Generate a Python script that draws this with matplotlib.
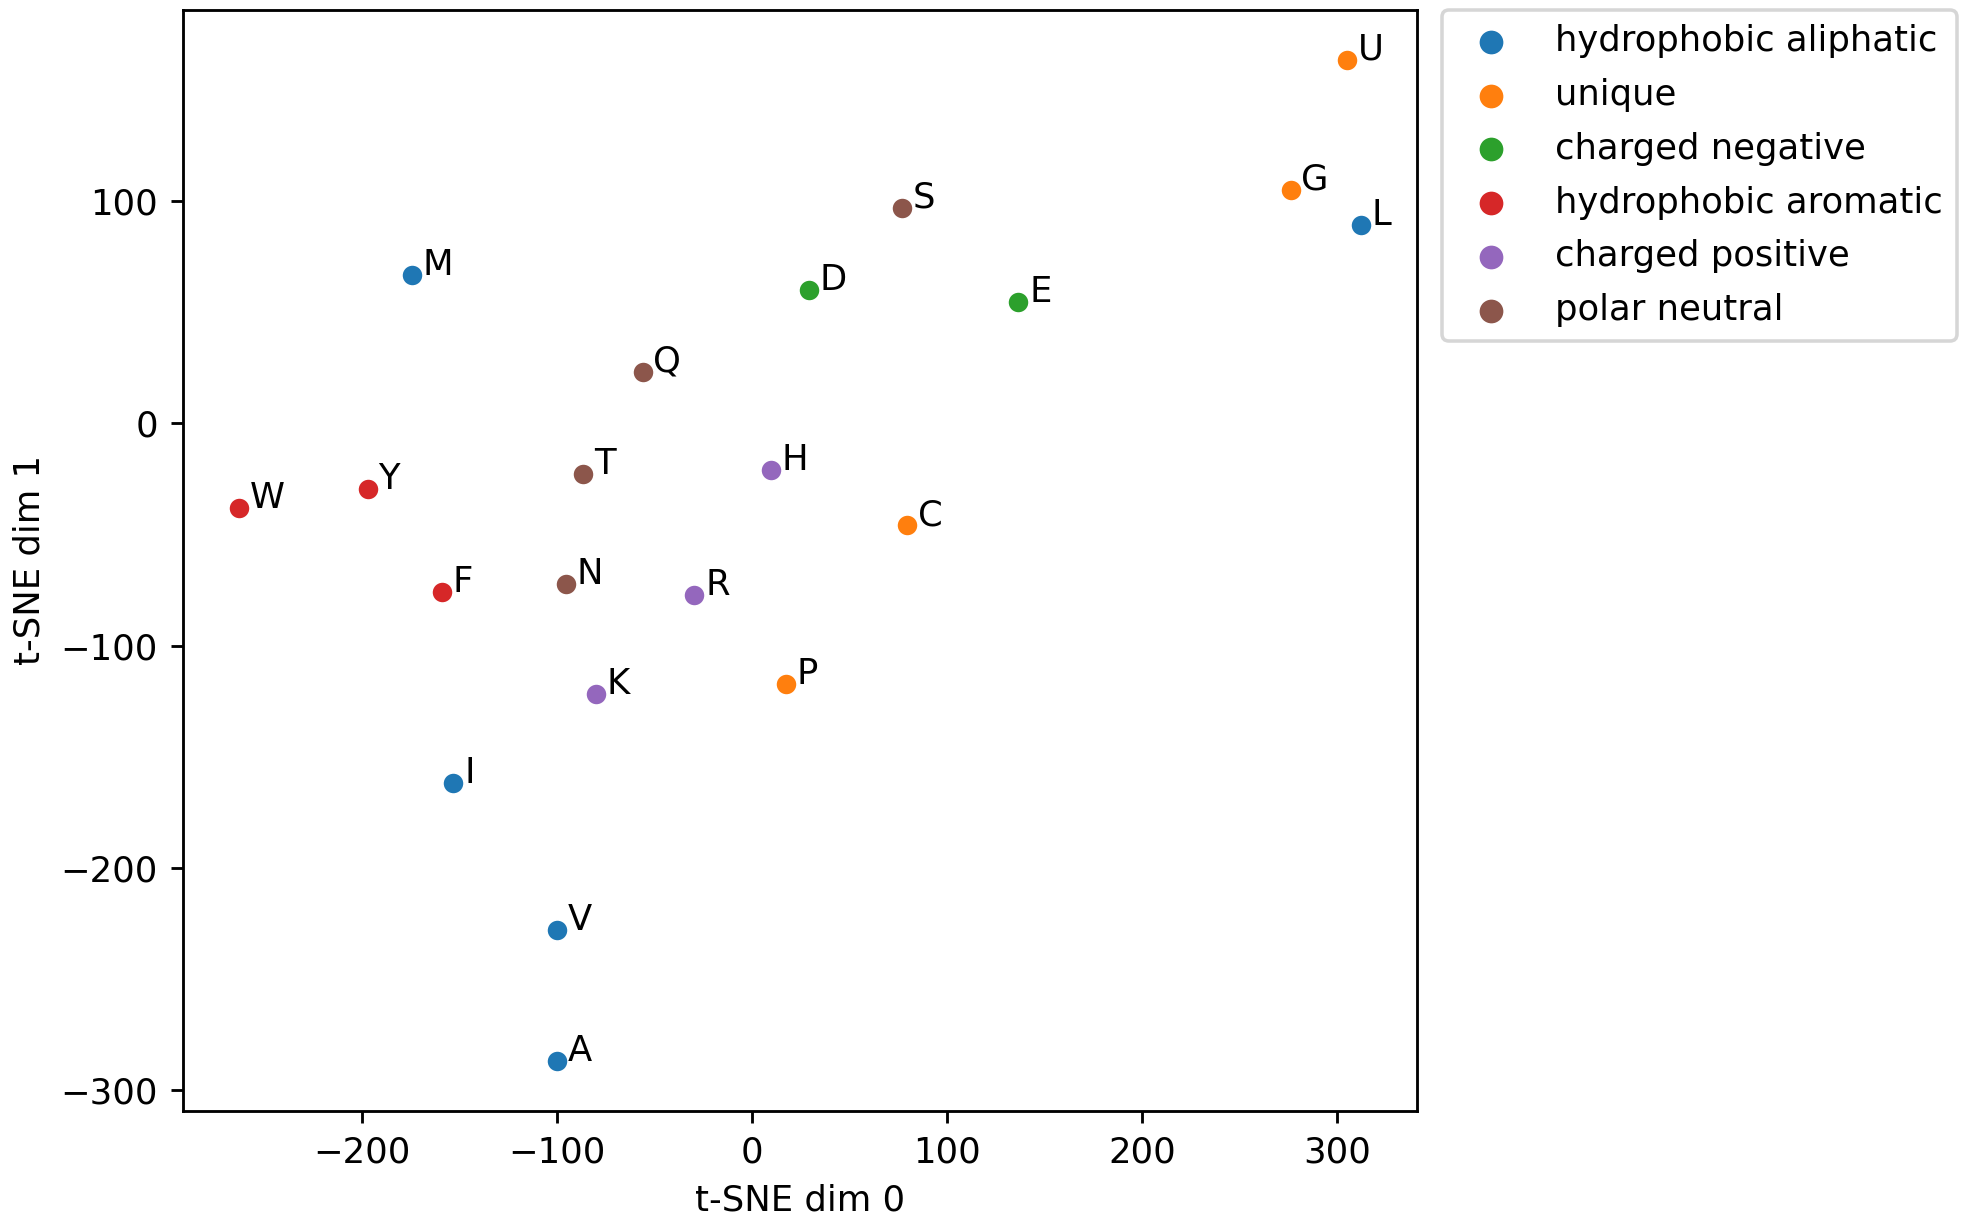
import matplotlib
matplotlib.use('Agg')
import matplotlib.pyplot as plt
import numpy as np

# amino acid embedding
letters = ['A', 'C', 'D', 'E', 'F', 'G', 'H', 'I', 'K', 'L', 'M',
           'N', 'P', 'Q', 'R', 'S', 'T', 'U', 'V', 'W', 'Y']
dim0 = [-99.7, 79.5, 29.0, 136.5, -159.0, 276.0, 9.6, -153.0, -80.0, 312.0, -174.4,
        -95.5, 17.3, -56.0, -29.5, 77.0, -86.5, 305.0, -100.0, -263.0, -197.0]
dim1 = [-286.8, -46.0, 60.0, 54.5, -76.0, 105.0, -21.0, -162.0, -122.0, 89.0, 66.4,
        -72.5, -117.4, 23.0, -77.5, 96.8, -23.0, 163.3, -228.0, -38.3, -29.4]

groups = ['hydrophobic aliphatic', 'unique', 'charged negative',
          'hydrophobic aromatic', 'charged positive', 'polar neutral']
group_members = {
    'hydrophobic aliphatic': ['M', 'L', 'I', 'V', 'A'],
    'unique': ['U', 'G', 'C', 'P'],
    'charged negative': ['D', 'E'],
    'hydrophobic aromatic': ['W', 'Y', 'F'],
    'charged positive': ['H', 'R', 'K'],
    'polar neutral': ['S', 'Q', 'T', 'N'],
}

dpi = 255
fig = plt.figure(figsize=(1962 / dpi, 1228 / dpi), dpi=dpi)
ax = fig.add_axes([0.0931, 0.0953, 0.6291, 0.8966])

x = np.array(dim0)
y = np.array(dim1)
for g in groups:
    idx = [letters.index(a) for a in group_members[g]]
    ax.scatter(x[idx], y[idx], s=36, edgecolors='white', linewidths=0.5, label=g)

for a, xi, yi in zip(letters, dim0, dim1):
    ax.text(xi + 5.5, yi, a, fontsize=10)

ax.set_xlabel('t-SNE dim 0')
ax.set_ylabel('t-SNE dim 1')
ax.legend(bbox_to_anchor=(1.02, 1), loc='upper left', borderaxespad=0.,
          markerscale=1.2, labelspacing=0.56)

fig.savefig('out.png', dpi=dpi)
